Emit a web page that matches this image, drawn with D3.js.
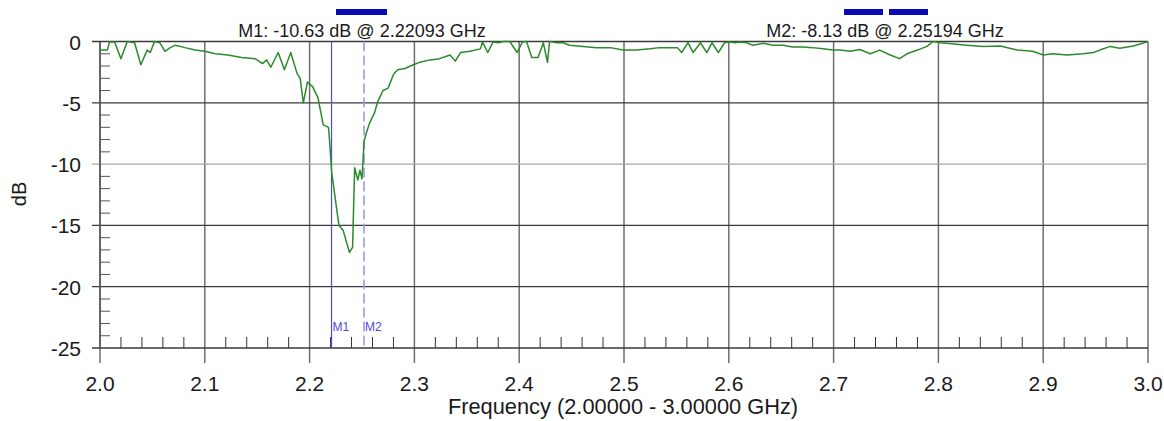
<!DOCTYPE html>
<html>
<head>
<meta charset="utf-8">
<script src="https://cdn.jsdelivr.net/npm/d3@7"></script>
<style>
  body { margin: 0; background: #fff; }
  text { font-family: "Liberation Sans", Arial, sans-serif; fill: #1a1a1a; }
</style>
</head>
<body>
<script>
// trace
const freq = [2.000, 2.007, 2.009, 2.014, 2.020, 2.026, 2.033, 2.039, 2.045, 2.048, 2.052, 2.057, 2.062, 2.067, 2.072, 2.081, 2.091, 2.100, 2.110, 2.122, 2.135, 2.148, 2.155, 2.159, 2.163, 2.170, 2.176, 2.182, 2.188, 2.191, 2.194, 2.198, 2.203, 2.208, 2.213, 2.218, 2.219, 2.221, 2.228, 2.232, 2.238, 2.241, 2.243, 2.246, 2.248, 2.250, 2.252, 2.254, 2.257, 2.262, 2.265, 2.270, 2.275, 2.280, 2.284, 2.291, 2.299, 2.305, 2.315, 2.324, 2.334, 2.339, 2.344, 2.353, 2.363, 2.365, 2.370, 2.375, 2.380, 2.385, 2.391, 2.398, 2.403, 2.407, 2.412, 2.418, 2.423, 2.427, 2.429, 2.436, 2.442, 2.448, 2.461, 2.474, 2.487, 2.499, 2.512, 2.525, 2.534, 2.544, 2.551, 2.555, 2.561, 2.566, 2.573, 2.579, 2.584, 2.590, 2.596, 2.601, 2.606, 2.611, 2.617, 2.623, 2.633, 2.642, 2.652, 2.661, 2.671, 2.680, 2.690, 2.699, 2.706, 2.716, 2.725, 2.735, 2.744, 2.754, 2.763, 2.770, 2.780, 2.789, 2.795, 2.802, 2.808, 2.827, 2.843, 2.859, 2.875, 2.890, 2.900, 2.909, 2.923, 2.938, 2.948, 2.954, 2.964, 2.973, 2.986, 2.995, 3.000];
const dB   = [-0.7, -0.7, -0.05, -0.05, -1.4, 0, -0.1, -1.9, -0.7, -0.9, 0, -0.1, -0.8, -0.5, -0.3, -0.5, -0.7, -0.8, -1.0, -1.1, -1.3, -1.4, -1.8, -1.5, -2.1, -0.9, -2.3, -0.9, -2.6, -3.0, -5.0, -3.3, -3.7, -4.6, -6.8, -7.0, -8.0, -10.63, -15.0, -15.4, -17.2, -16.8, -10.3, -11.3, -10.5, -11.2, -8.13, -7.5, -6.7, -5.8, -4.9, -4.0, -3.8, -2.7, -2.3, -2.2, -1.9, -1.7, -1.5, -1.4, -1.1, -1.6, -0.9, -0.8, -0.6, -0.05, -0.9, -0.05, -0.1, 0, 0, -0.9, -0.05, 0, -1.3, -1.3, -0.1, -1.7, 0, -0.1, -0.1, -0.3, -0.4, -0.5, -0.5, -0.7, -0.7, -0.6, -0.5, -0.5, -0.5, -0.9, -0.1, -0.9, -0.1, -0.9, -0.1, -0.9, -0.1, -0.05, -0.1, -0.05, -0.1, -0.3, -0.15, -0.3, -0.3, -0.45, -0.45, -0.5, -0.6, -0.7, -0.7, -0.8, -0.65, -1.0, -0.7, -1.1, -1.4, -1.0, -0.7, -0.4, 0, -0.1, -0.15, -0.3, -0.4, -0.37, -0.7, -0.8, -1.1, -1.0, -1.1, -1.0, -0.9, -0.7, -0.4, -0.55, -0.37, -0.15, 0];

const xTicks = [2.0, 2.1, 2.2, 2.3, 2.4, 2.5, 2.6, 2.7, 2.8, 2.9, 3.0];
const yTicks = [0, -5, -10, -15, -20, -25];

const markerNames = ["M1", "M2"];
const markerFreq = [2.22093, 2.25194];
const markerDb = [-10.63, -8.13];

const W = 1164, H = 421;
const svg = d3.select("body").append("svg").attr("width", W).attr("height", H);

const x = d3.scaleLinear().domain([2, 3]).range([100, 1148]);
const y = d3.scaleLinear().domain([-25, 0]).range([348, 41.5]);

// minor ticks
const xMinor = d3.range(2, 3.0001, 0.02).filter(v => Math.abs(v * 10 - Math.round(v * 10)) > 1e-6);
const yMinor = d3.range(-25, 0.0001, 1).filter(v => v % 5 !== 0);

// vertical grid (extends below axis as major tick)
svg.append("g").selectAll("line").data(xTicks).join("line")
    .attr("x1", d => x(d)).attr("x2", d => x(d))
    .attr("y1", y(0)).attr("y2", y(-25) + 15)
    .attr("stroke", "#6e6e6e").attr("stroke-width", 1.5);

// horizontal grid
svg.append("g").selectAll("line").data(yTicks).join("line")
    .attr("x1", x(2) - 8).attr("x2", x(3))
    .attr("y1", d => y(d)).attr("y2", d => y(d))
    .attr("stroke", d => d === -10 ? "#a8a8a8" : "#3a3a3a")
    .attr("stroke-width", d => (d === 0 || d === -25) ? 1.6 : 1.3);

// left axis line
svg.append("line")
    .attr("x1", x(2)).attr("x2", x(2)).attr("y1", y(0)).attr("y2", y(-25))
    .attr("stroke", "#555").attr("stroke-width", 1.5);

// minor ticks inside the plot
svg.append("g").selectAll("line").data(xMinor).join("line")
    .attr("x1", d => x(d)).attr("x2", d => x(d))
    .attr("y1", y(-25)).attr("y2", y(-25) - 11)
    .attr("stroke", "#333").attr("stroke-width", 1);
svg.append("g").selectAll("line").data(yMinor).join("line")
    .attr("x1", x(2)).attr("x2", x(2) + 10)
    .attr("y1", d => y(d)).attr("y2", d => y(d))
    .attr("stroke", "#555").attr("stroke-width", 1);

// tick labels
svg.append("g").selectAll("text").data(yTicks).join("text")
    .attr("x", 81).attr("y", d => y(d) + 8)
    .attr("text-anchor", "end").attr("font-size", 21)
    .text(d => d);
svg.append("g").selectAll("text").data(xTicks).join("text")
    .attr("x", d => x(d)).attr("y", 391)
    .attr("text-anchor", "middle").attr("font-size", 21)
    .text(d => d.toFixed(1));

// axis titles
svg.append("text")
    .attr("x", 623).attr("y", 414)
    .attr("text-anchor", "middle").attr("font-size", 21.8)
    .text("Frequency (2.00000 - 3.00000 GHz)");
svg.append("text")
    .attr("transform", "translate(26,194) rotate(-90)")
    .attr("text-anchor", "middle").attr("font-size", 20)
    .text("dB");

// marker lines
svg.append("g").selectAll("line").data(markerFreq).join("line")
    .attr("x1", d => x(d)).attr("x2", d => x(d))
    .attr("y1", y(0)).attr("y2", y(-25))
    .attr("stroke", (d, i) => i === 0 ? "#4b4bdc" : "#9a9aea")
    .attr("stroke-width", (d, i) => i === 0 ? 1.2 : 1.6)
    .attr("stroke-dasharray", (d, i) => i === 0 ? null : "10,4");
svg.append("g").selectAll("text").data(markerNames).join("text")
    .attr("x", (d, i) => x(markerFreq[i]) + 1).attr("y", 331)
    .attr("font-size", 12).style("fill", "#4b4bdc")
    .text(d => d);

// trace
const line = d3.line().x((d, i) => x(freq[i])).y(d => y(d));
svg.append("path")
    .datum(dB)
    .attr("fill", "none")
    .attr("stroke", "#2b8a2b")
    .attr("stroke-width", 1.5)
    .attr("stroke-linejoin", "round")
    .attr("d", line);

// marker readouts + blue indicator bars
const readX = [362, 885];
svg.append("g").selectAll("text").data(markerNames).join("text")
    .attr("x", (d, i) => readX[i]).attr("y", 37)
    .attr("text-anchor", "middle").attr("font-size", 18)
    .text((d, i) => `${d}: ${markerDb[i].toFixed(2)} dB @ ${markerFreq[i].toFixed(5)} GHz`);
const bars = [[336, 387], [844, 883], [889, 928]];
svg.append("g").selectAll("rect").data(bars).join("rect")
    .attr("x", d => d[0]).attr("width", d => d[1] - d[0])
    .attr("y", 9).attr("height", 6)
    .attr("fill", "#0a0ab4");
</script>
</body>
</html>
